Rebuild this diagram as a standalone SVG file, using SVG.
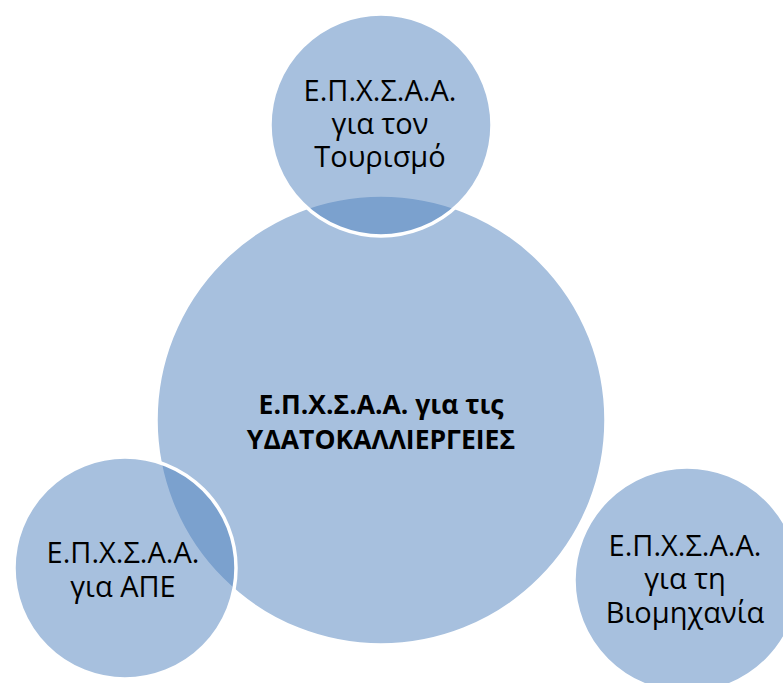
<svg xmlns="http://www.w3.org/2000/svg" width="783" height="683" viewBox="0 0 783 683">
  <style>
    .c { fill: #4F81BD; fill-opacity: 0.5; stroke: #FFFFFF; stroke-width: 3.5; }
    .t { font-family: "Open Sans", "Noto Sans", "Liberation Sans", sans-serif; font-size: 29px; fill: #000000; text-anchor: middle; }
    .b { font-family: "Open Sans", "Noto Sans", "Liberation Sans", sans-serif; font-size: 26.5px; font-weight: bold; fill: #000000; text-anchor: middle; }
  </style>
  <rect x="0" y="0" width="783" height="683" fill="#FFFFFF"/>
  <g id="center">
    <circle class="c" cx="381" cy="420" r="225"/>
    <text class="b" x="381" y="414">Ε.Π.Χ.Σ.Α.Α. για τις</text>
    <text class="b" x="381" y="449">ΥΔΑΤΟΚΑΛΛΙΕΡΓΕΙΕΣ</text>
  </g>
  <g id="tourism">
    <circle class="c" cx="381" cy="125" r="111"/>
    <text class="t" x="380" y="101">Ε.Π.Χ.Σ.Α.Α.</text>
    <text class="t" x="380" y="134">για τον</text>
    <text class="t" x="380" y="167">Τουρισμό</text>
  </g>
  <g id="ape">
    <circle class="c" cx="125" cy="568" r="111"/>
    <text class="t" x="123" y="563">Ε.Π.Χ.Σ.Α.Α.</text>
    <text class="t" x="123" y="597">για ΑΠΕ</text>
  </g>
  <g id="industry">
    <circle class="c" cx="687" cy="580" r="113"/>
    <text class="t" x="685" y="556">Ε.Π.Χ.Σ.Α.Α.</text>
    <text class="t" x="685" y="589">για τη</text>
    <text class="t" x="685" y="623">Βιομηχανία</text>
  </g>
</svg>
